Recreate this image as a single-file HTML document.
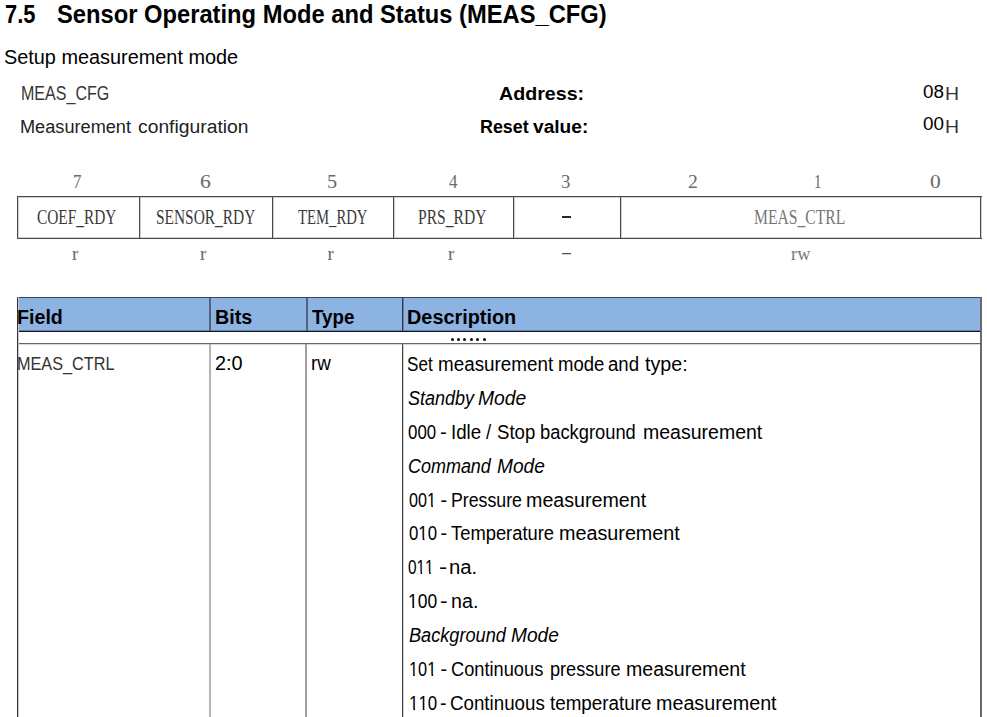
<!DOCTYPE html>
<html><head><meta charset="utf-8"><style>
html,body{margin:0;padding:0;background:#fff;width:987px;height:717px;overflow:hidden;position:relative}
.t{position:absolute;white-space:nowrap;line-height:1;transform-origin:0 0}
.r{position:absolute}
.o{position:relative}
.o::before,.o::after{content:"";position:absolute;background:#fff;top:0.815em;height:0.1em}
.o::before{left:0.05em;width:0.20em}
.o::after{left:0.35em;width:0.20em}
</style></head><body>
<div class="r" style="left:17px;top:196px;width:965px;height:1px;background:#4a4a4a"></div>
<div class="r" style="left:17px;top:197px;width:965px;height:1px;background:#cfcfcf"></div>
<div class="r" style="left:17px;top:238px;width:965px;height:1px;background:#4a4a4a"></div>
<div class="r" style="left:17px;top:237px;width:965px;height:1px;background:#cfcfcf"></div>
<div class="r" style="left:17px;top:196px;width:1px;height:43px;background:#4a4a4a"></div>
<div class="r" style="left:18px;top:197px;width:1px;height:41px;background:#cfcfcf"></div>
<div class="r" style="left:139px;top:196px;width:1px;height:43px;background:#4a4a4a"></div>
<div class="r" style="left:140px;top:197px;width:1px;height:41px;background:#cfcfcf"></div>
<div class="r" style="left:272px;top:196px;width:1px;height:43px;background:#4a4a4a"></div>
<div class="r" style="left:273px;top:197px;width:1px;height:41px;background:#cfcfcf"></div>
<div class="r" style="left:393px;top:196px;width:1px;height:43px;background:#4a4a4a"></div>
<div class="r" style="left:394px;top:197px;width:1px;height:41px;background:#cfcfcf"></div>
<div class="r" style="left:513px;top:196px;width:1px;height:43px;background:#4a4a4a"></div>
<div class="r" style="left:514px;top:197px;width:1px;height:41px;background:#cfcfcf"></div>
<div class="r" style="left:620px;top:196px;width:1px;height:43px;background:#4a4a4a"></div>
<div class="r" style="left:621px;top:197px;width:1px;height:41px;background:#cfcfcf"></div>
<div class="r" style="left:980px;top:196px;width:1px;height:43px;background:#4a4a4a"></div>
<div class="r" style="left:981px;top:197px;width:1px;height:41px;background:#cfcfcf"></div>
<div class="r" style="left:562px;top:216px;width:9px;height:2px;background:#2a2a2a"></div>
<div class="r" style="left:562px;top:253px;width:9px;height:1px;background:#555"></div>
<div class="r" style="left:562px;top:254px;width:9px;height:1px;background:#ccc"></div>
<div class="r" style="left:17px;top:298px;width:964px;height:33px;background:#8db3e2"></div>
<div class="r" style="left:17px;top:297px;width:964px;height:1px;background:#3a4658"></div>
<div class="r" style="left:17px;top:331px;width:964px;height:1px;background:#0f1520"></div>
<div class="r" style="left:17px;top:330px;width:964px;height:1px;background:#6d82a6"></div>
<div class="r" style="left:17px;top:343px;width:964px;height:1px;background:#666"></div>
<div class="r" style="left:17px;top:344px;width:964px;height:1px;background:#d8d8d8"></div>
<div class="r" style="left:17px;top:297px;width:1px;height:420px;background:#333"></div>
<div class="r" style="left:18px;top:297px;width:1px;height:420px;background:#c8c8c8"></div>
<div class="r" style="left:980px;top:297px;width:2px;height:420px;background:#6a6a6a"></div>
<div class="r" style="left:209px;top:298px;width:2px;height:33px;background:#4f6080"></div>
<div class="r" style="left:306px;top:298px;width:2px;height:33px;background:#4f6080"></div>
<div class="r" style="left:402px;top:298px;width:1px;height:33px;background:#2a3650"></div>
<div class="r" style="left:403px;top:298px;width:1px;height:33px;background:#6a82a8"></div>
<div class="r" style="left:209px;top:344px;width:2px;height:373px;background:#b5b5b5"></div>
<div class="r" style="left:305px;top:344px;width:2px;height:373px;background:#a0a0a0"></div>
<div class="r" style="left:402px;top:344px;width:1px;height:373px;background:#444"></div>
<div class="r" style="left:403px;top:344px;width:1px;height:373px;background:#d0d0d0"></div>
<div class="r" style="left:451px;top:338px;width:3px;height:3px;border-radius:50%;background:#111"></div>
<div class="r" style="left:457px;top:338px;width:3px;height:3px;border-radius:50%;background:#111"></div>
<div class="r" style="left:463px;top:338px;width:3px;height:3px;border-radius:50%;background:#111"></div>
<div class="r" style="left:470px;top:338px;width:3px;height:3px;border-radius:50%;background:#111"></div>
<div class="r" style="left:476px;top:338px;width:3px;height:3px;border-radius:50%;background:#111"></div>
<div class="r" style="left:483px;top:338px;width:3px;height:3px;border-radius:50%;background:#111"></div>
<div class="t" style="left:4.96px;top:1.00px;font-size:26px;font-family:'Liberation Sans', sans-serif;font-weight:bold;font-style:normal;color:#000;transform:scaleX(0.8429);">7.5</div>
<div class="t" style="left:56.69px;top:1.00px;font-size:26px;font-family:'Liberation Sans', sans-serif;font-weight:bold;font-style:normal;color:#000;transform:scaleX(0.9125);">Sensor Operating Mode and Status (MEAS_CFG)</div>
<div class="t" style="left:3.69px;top:48.00px;font-size:19.6px;font-family:'Liberation Sans', sans-serif;font-weight:normal;font-style:normal;color:#000;transform:scaleX(1.0140);">Setup measurement mode</div>
<div class="t" style="left:21.39px;top:84.00px;font-size:19.8px;font-family:'Liberation Sans', sans-serif;font-weight:normal;font-style:normal;color:#383838;transform:scaleX(0.8112);">MEAS_CFG</div>
<div class="t" style="left:20.33px;top:118.00px;font-size:18.8px;font-family:'Liberation Sans', sans-serif;font-weight:normal;font-style:normal;color:#222;transform:scaleX(0.9667);">Measurement</div>
<div class="t" style="left:138.07px;top:118.00px;font-size:18.8px;font-family:'Liberation Sans', sans-serif;font-weight:normal;font-style:normal;color:#222;transform:scaleX(1.0274);">configuration</div>
<div class="t" style="left:498.70px;top:84.00px;font-size:19.2px;font-family:'Liberation Sans', sans-serif;font-weight:bold;font-style:normal;color:#000;transform:scaleX(1.0232);">Address:</div>
<div class="t" style="left:479.57px;top:117.00px;font-size:19.2px;font-family:'Liberation Sans', sans-serif;font-weight:bold;font-style:normal;color:#000;transform:scaleX(0.9314);">Reset</div>
<div class="t" style="left:533.20px;top:117.00px;font-size:19.2px;font-family:'Liberation Sans', sans-serif;font-weight:bold;font-style:normal;color:#000;transform:scaleX(0.9963);">value:</div>
<div class="t" style="left:922.70px;top:82.00px;font-size:19.2px;font-family:'Liberation Sans', sans-serif;font-weight:normal;font-style:normal;color:#000;transform:scaleX(0.9810);">08</div>
<div class="t" style="left:944.75px;top:85.00px;font-size:18.6px;font-family:'Liberation Sans', sans-serif;font-weight:normal;font-style:normal;color:#333;transform:scaleX(1.0455);">H</div>
<div class="t" style="left:922.70px;top:114.00px;font-size:19.2px;font-family:'Liberation Sans', sans-serif;font-weight:normal;font-style:normal;color:#000;transform:scaleX(0.9810);">00</div>
<div class="t" style="left:944.75px;top:118.00px;font-size:18.6px;font-family:'Liberation Sans', sans-serif;font-weight:normal;font-style:normal;color:#333;transform:scaleX(1.0455);">H</div>
<div class="t" style="left:73.01px;top:172.00px;font-size:19px;font-family:'Liberation Serif', serif;font-weight:normal;font-style:normal;color:#6a6a6a;transform:scaleX(0.8875);">7</div>
<div class="t" style="left:199.56px;top:172.00px;font-size:19px;font-family:'Liberation Serif', serif;font-weight:normal;font-style:normal;color:#6a6a6a;transform:scaleX(1.1375);">6</div>
<div class="t" style="left:327.24px;top:172.00px;font-size:19px;font-family:'Liberation Serif', serif;font-weight:normal;font-style:normal;color:#6a6a6a;transform:scaleX(1.0625);">5</div>
<div class="t" style="left:449.00px;top:172.00px;font-size:19px;font-family:'Liberation Serif', serif;font-weight:normal;font-style:normal;color:#6a6a6a;transform:scaleX(0.8889);">4</div>
<div class="t" style="left:561.21px;top:172.00px;font-size:19px;font-family:'Liberation Serif', serif;font-weight:normal;font-style:normal;color:#6a6a6a;transform:scaleX(0.9875);">3</div>
<div class="t" style="left:688.46px;top:172.00px;font-size:19px;font-family:'Liberation Serif', serif;font-weight:normal;font-style:normal;color:#6a6a6a;transform:scaleX(1.0375);">2</div>
<div class="t" style="left:814.43px;top:172.00px;font-size:19px;font-family:'Liberation Serif', serif;font-weight:normal;font-style:normal;color:#6a6a6a;transform:scaleX(0.7833);">1</div>
<div class="t" style="left:929.88px;top:172.00px;font-size:19px;font-family:'Liberation Serif', serif;font-weight:normal;font-style:normal;color:#6a6a6a;transform:scaleX(1.1250);">0</div>
<div class="t" style="left:37.25px;top:207.00px;font-size:20.5px;font-family:'Liberation Serif', serif;font-weight:normal;font-style:normal;color:#3a3a3a;transform:scaleX(0.7495);">COEF_RDY</div>
<div class="t" style="left:155.75px;top:207.00px;font-size:20.5px;font-family:'Liberation Serif', serif;font-weight:normal;font-style:normal;color:#3a3a3a;transform:scaleX(0.7519);">SENSOR_RDY</div>
<div class="t" style="left:298.00px;top:207.00px;font-size:20.5px;font-family:'Liberation Serif', serif;font-weight:normal;font-style:normal;color:#3a3a3a;transform:scaleX(0.7177);">TEM_RDY</div>
<div class="t" style="left:418.24px;top:207.00px;font-size:20.5px;font-family:'Liberation Serif', serif;font-weight:normal;font-style:normal;color:#3a3a3a;transform:scaleX(0.7607);">PRS_RDY</div>
<div class="t" style="left:754.44px;top:207.00px;font-size:20.5px;font-family:'Liberation Serif', serif;font-weight:normal;font-style:normal;color:#777;transform:scaleX(0.7632);">MEAS_CTRL</div>
<div class="t" style="left:72.00px;top:244.00px;font-size:19px;font-family:'Liberation Serif', serif;font-weight:normal;font-style:normal;color:#666;">r</div>
<div class="t" style="left:200.00px;top:244.00px;font-size:19px;font-family:'Liberation Serif', serif;font-weight:normal;font-style:normal;color:#666;">r</div>
<div class="t" style="left:327.50px;top:244.00px;font-size:19px;font-family:'Liberation Serif', serif;font-weight:normal;font-style:normal;color:#666;">r</div>
<div class="t" style="left:448.00px;top:244.00px;font-size:19px;font-family:'Liberation Serif', serif;font-weight:normal;font-style:normal;color:#666;">r</div>
<div class="t" style="left:790.63px;top:244.00px;font-size:19px;font-family:'Liberation Serif', serif;font-weight:normal;font-style:normal;color:#777;transform:scaleX(0.9684);">rw</div>
<div class="t" style="left:17.49px;top:308.00px;font-size:19.4px;font-family:'Liberation Sans', sans-serif;font-weight:bold;font-style:normal;color:#000;transform:scaleX(1.0140);">Field</div>
<div class="t" style="left:215.28px;top:308.00px;font-size:19.4px;font-family:'Liberation Sans', sans-serif;font-weight:bold;font-style:normal;color:#000;transform:scaleX(1.0200);">Bits</div>
<div class="t" style="left:312.30px;top:308.00px;font-size:19.4px;font-family:'Liberation Sans', sans-serif;font-weight:bold;font-style:normal;color:#000;transform:scaleX(0.9682);">Type</div>
<div class="t" style="left:407.38px;top:308.00px;font-size:19.4px;font-family:'Liberation Sans', sans-serif;font-weight:bold;font-style:normal;color:#000;transform:scaleX(1.0238);">Description</div>
<div class="t" style="left:16.85px;top:354.00px;font-size:19.2px;font-family:'Liberation Sans', sans-serif;font-weight:normal;font-style:normal;color:#333;transform:scaleX(0.8465);">MEAS_CTRL</div>
<div class="t" style="left:214.98px;top:354.00px;font-size:19.4px;font-family:'Liberation Sans', sans-serif;font-weight:normal;font-style:normal;color:#000;transform:scaleX(1.0231);">2:0</div>
<div class="t" style="left:311.33px;top:354.00px;font-size:19.4px;font-family:'Liberation Sans', sans-serif;font-weight:normal;font-style:normal;color:#000;transform:scaleX(0.9700);">rw</div>
<div class="t" style="left:407.43px;top:355.00px;font-size:19.6px;font-family:'Liberation Sans', sans-serif;font-weight:normal;font-style:normal;color:#000;transform:scaleX(0.8724);">Set</div>
<div class="t" style="left:437.74px;top:355.00px;font-size:19.6px;font-family:'Liberation Sans', sans-serif;font-weight:normal;font-style:normal;color:#000;transform:scaleX(0.9613);">measurement</div>
<div class="t" style="left:557.86px;top:355.00px;font-size:19.6px;font-family:'Liberation Sans', sans-serif;font-weight:normal;font-style:normal;color:#000;transform:scaleX(0.9447);">mode</div>
<div class="t" style="left:608.35px;top:355.00px;font-size:19.6px;font-family:'Liberation Sans', sans-serif;font-weight:normal;font-style:normal;color:#000;transform:scaleX(0.9516);">and</div>
<div class="t" style="left:645.00px;top:355.00px;font-size:19.6px;font-family:'Liberation Sans', sans-serif;font-weight:normal;font-style:normal;color:#000;transform:scaleX(1.0049);">type:</div>
<div class="t" style="left:407.88px;top:389.00px;font-size:19.6px;font-family:'Liberation Sans', sans-serif;font-weight:normal;font-style:italic;color:#000;transform:scaleX(0.9181);">Standby</div>
<div class="t" style="left:478.20px;top:389.00px;font-size:19.6px;font-family:'Liberation Sans', sans-serif;font-weight:normal;font-style:italic;color:#000;transform:scaleX(0.9837);">Mode</div>
<div class="t" style="left:408.30px;top:423.00px;font-size:19.6px;font-family:'Liberation Sans', sans-serif;font-weight:normal;font-style:normal;color:#000;transform:scaleX(0.8625);">000</div>
<div class="t" style="left:440.36px;top:423.00px;font-size:19.6px;font-family:'Liberation Sans', sans-serif;font-weight:normal;font-style:normal;color:#000;transform:scaleX(1.0400);">-</div>
<div class="t" style="left:450.69px;top:423.00px;font-size:19.6px;font-family:'Liberation Sans', sans-serif;font-weight:normal;font-style:normal;color:#000;transform:scaleX(0.9552);">Idle</div>
<div class="t" style="left:486.10px;top:423.00px;font-size:19.6px;font-family:'Liberation Sans', sans-serif;font-weight:normal;font-style:normal;color:#000;transform:scaleX(0.9500);">/</div>
<div class="t" style="left:496.65px;top:423.00px;font-size:19.6px;font-family:'Liberation Sans', sans-serif;font-weight:normal;font-style:normal;color:#000;transform:scaleX(0.9487);">Stop</div>
<div class="t" style="left:540.06px;top:423.00px;font-size:19.6px;font-family:'Liberation Sans', sans-serif;font-weight:normal;font-style:normal;color:#000;transform:scaleX(0.9356);">background</div>
<div class="t" style="left:642.80px;top:423.00px;font-size:19.6px;font-family:'Liberation Sans', sans-serif;font-weight:normal;font-style:normal;color:#000;transform:scaleX(0.9958);">measurement</div>
<div class="t" style="left:408.18px;top:457.00px;font-size:19.6px;font-family:'Liberation Sans', sans-serif;font-weight:normal;font-style:italic;color:#000;transform:scaleX(0.9167);">Command</div>
<div class="t" style="left:496.60px;top:457.00px;font-size:19.6px;font-family:'Liberation Sans', sans-serif;font-weight:normal;font-style:italic;color:#000;transform:scaleX(0.9755);">Mode</div>
<div class="t" style="left:408.50px;top:491.00px;font-size:19.6px;font-family:'Liberation Sans', sans-serif;font-weight:normal;font-style:normal;color:#000;transform:scaleX(0.8250);">00<span class="o">1</span></div>
<div class="t" style="left:440.50px;top:491.00px;font-size:19.6px;font-family:'Liberation Sans', sans-serif;font-weight:normal;font-style:normal;color:#000;">-</div>
<div class="t" style="left:451.19px;top:491.00px;font-size:19.6px;font-family:'Liberation Sans', sans-serif;font-weight:normal;font-style:normal;color:#000;transform:scaleX(0.9052);">Pressure</div>
<div class="t" style="left:526.40px;top:491.00px;font-size:19.6px;font-family:'Liberation Sans', sans-serif;font-weight:normal;font-style:normal;color:#000;transform:scaleX(1.0034);">measurement</div>
<div class="t" style="left:408.50px;top:524.00px;font-size:19.6px;font-family:'Liberation Sans', sans-serif;font-weight:normal;font-style:normal;color:#000;transform:scaleX(0.8562);">0<span class="o">1</span>0</div>
<div class="t" style="left:440.50px;top:524.00px;font-size:19.6px;font-family:'Liberation Sans', sans-serif;font-weight:normal;font-style:normal;color:#000;">-</div>
<div class="t" style="left:451.10px;top:524.00px;font-size:19.6px;font-family:'Liberation Sans', sans-serif;font-weight:normal;font-style:normal;color:#000;transform:scaleX(0.9367);">Temperature</div>
<div class="t" style="left:558.79px;top:524.00px;font-size:19.6px;font-family:'Liberation Sans', sans-serif;font-weight:normal;font-style:normal;color:#000;transform:scaleX(1.0084);">measurement</div>
<div class="t" style="left:407.90px;top:558.00px;font-size:19.6px;font-family:'Liberation Sans', sans-serif;font-weight:normal;font-style:normal;color:#000;transform:scaleX(0.7839);">0<span class="o">1</span><span class="o">1</span></div>
<div class="t" style="left:438.84px;top:558.00px;font-size:19.6px;font-family:'Liberation Sans', sans-serif;font-weight:normal;font-style:normal;color:#000;transform:scaleX(1.2600);">-</div>
<div class="t" style="left:449.16px;top:558.00px;font-size:19.6px;font-family:'Liberation Sans', sans-serif;font-weight:normal;font-style:normal;color:#000;transform:scaleX(1.0360);">na.</div>
<div class="t" style="left:408.31px;top:592.00px;font-size:19.6px;font-family:'Liberation Sans', sans-serif;font-weight:normal;font-style:normal;color:#000;transform:scaleX(0.8903);"><span class="o">1</span>00</div>
<div class="t" style="left:439.84px;top:592.00px;font-size:19.6px;font-family:'Liberation Sans', sans-serif;font-weight:normal;font-style:normal;color:#000;transform:scaleX(1.1600);">-</div>
<div class="t" style="left:450.90px;top:592.00px;font-size:19.6px;font-family:'Liberation Sans', sans-serif;font-weight:normal;font-style:normal;color:#000;transform:scaleX(1.0040);">na.</div>
<div class="t" style="left:408.60px;top:626.00px;font-size:19.6px;font-family:'Liberation Sans', sans-serif;font-weight:normal;font-style:italic;color:#000;transform:scaleX(0.9267);">Background</div>
<div class="t" style="left:510.80px;top:626.00px;font-size:19.6px;font-family:'Liberation Sans', sans-serif;font-weight:normal;font-style:italic;color:#000;transform:scaleX(0.9755);">Mode</div>
<div class="t" style="left:408.77px;top:660.00px;font-size:19.6px;font-family:'Liberation Sans', sans-serif;font-weight:normal;font-style:normal;color:#000;transform:scaleX(0.8323);"><span class="o">1</span>0<span class="o">1</span></div>
<div class="t" style="left:440.50px;top:660.00px;font-size:19.6px;font-family:'Liberation Sans', sans-serif;font-weight:normal;font-style:normal;color:#000;">-</div>
<div class="t" style="left:451.17px;top:660.00px;font-size:19.6px;font-family:'Liberation Sans', sans-serif;font-weight:normal;font-style:normal;color:#000;transform:scaleX(0.9306);">Continuous</div>
<div class="t" style="left:549.97px;top:660.00px;font-size:19.6px;font-family:'Liberation Sans', sans-serif;font-weight:normal;font-style:normal;color:#000;transform:scaleX(0.9253);">pressure</div>
<div class="t" style="left:625.80px;top:660.00px;font-size:19.6px;font-family:'Liberation Sans', sans-serif;font-weight:normal;font-style:normal;color:#000;transform:scaleX(0.9983);">measurement</div>
<div class="t" style="left:408.74px;top:694.00px;font-size:19.6px;font-family:'Liberation Sans', sans-serif;font-weight:normal;font-style:normal;color:#000;transform:scaleX(0.8600);"><span class="o">1</span><span class="o">1</span>0</div>
<div class="t" style="left:440.00px;top:694.00px;font-size:19.6px;font-family:'Liberation Sans', sans-serif;font-weight:normal;font-style:normal;color:#000;">-</div>
<div class="t" style="left:449.64px;top:694.00px;font-size:19.6px;font-family:'Liberation Sans', sans-serif;font-weight:normal;font-style:normal;color:#000;transform:scaleX(0.9561);">Continuous</div>
<div class="t" style="left:549.90px;top:694.00px;font-size:19.6px;font-family:'Liberation Sans', sans-serif;font-weight:normal;font-style:normal;color:#000;transform:scaleX(0.9600);">temperature</div>
<div class="t" style="left:656.19px;top:694.00px;font-size:19.6px;font-family:'Liberation Sans', sans-serif;font-weight:normal;font-style:normal;color:#000;transform:scaleX(1.0067);">measurement</div>
</body></html>
